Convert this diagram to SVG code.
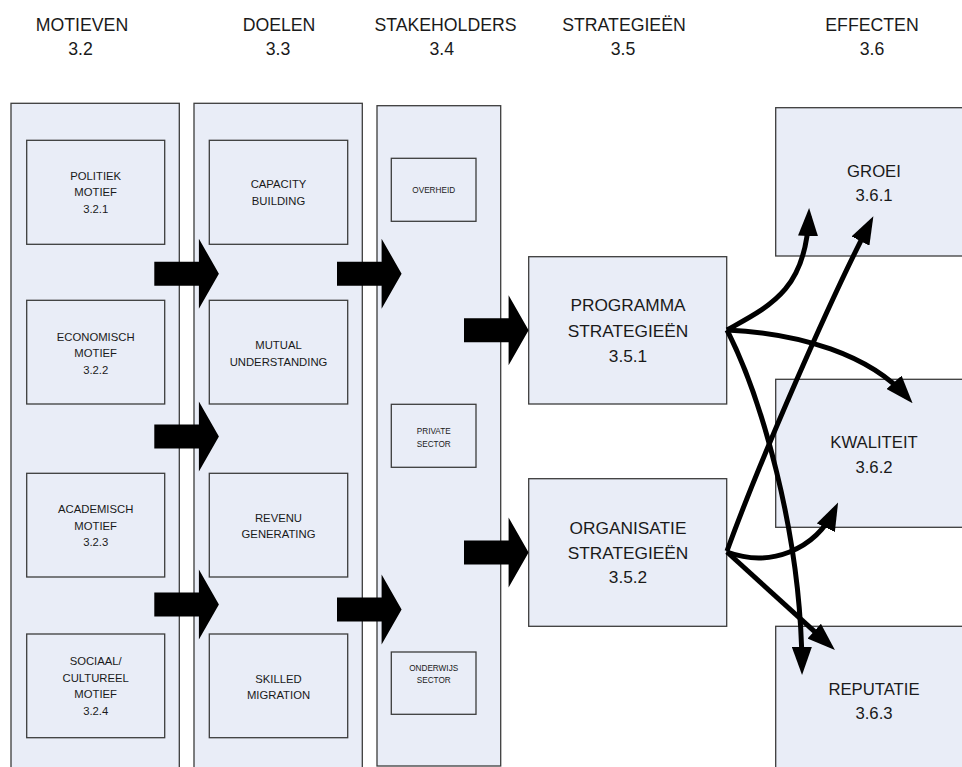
<svg xmlns="http://www.w3.org/2000/svg" xmlns:xlink="http://www.w3.org/1999/xlink" width="962" height="767" viewBox="0 0 962 767">
<style>
  .box { fill: #E9EDF7; stroke: #3c3c3c; stroke-width: 1.3; }
  .col { fill: #E9EDF7; stroke: #3c3c3c; stroke-width: 1.3; }
  text { font-family: "Liberation Sans", Arial, sans-serif; fill: #1a1a1a; text-anchor: middle; }
  .hd { font-size: 17.7px; }
  .lb { font-size: 11.3px; }
  .sm { font-size: 8.2px; }
  .st { font-size: 17.3px; }
  .ef { font-size: 16.7px; }
  .con { fill: none; stroke: #000; stroke-width: 5; marker-end: url(#ah); }
  .blk { fill: #000; }
</style>
<defs>
  <marker id="ah" markerUnits="userSpaceOnUse" viewBox="0 0 28 20" markerWidth="28" markerHeight="20" refX="20" refY="10" orient="auto">
    <path d="M0,0 L28,10 L0,20 Z" fill="#000"/>
  </marker>
  <path id="blk" d="M0,-12 H44.6 V-35 L64.6,0 L44.6,35 V12 H0 Z"/>
</defs>
<rect width="962" height="767" fill="#fff"/>

<g id="headers">
  <text class="hd" x="82" y="31">MOTIEVEN</text>
  <text class="hd" x="80.5" y="55">3.2</text>
  <text class="hd" x="279" y="31">DOELEN</text>
  <text class="hd" x="278" y="55">3.3</text>
  <text class="hd" x="445.5" y="31">STAKEHOLDERS</text>
  <text class="hd" x="441.7" y="55">3.4</text>
  <text class="hd" x="624" y="31">STRATEGIEËN</text>
  <text class="hd" x="623" y="55">3.5</text>
  <text class="hd" x="872" y="31">EFFECTEN</text>
  <text class="hd" x="872" y="55">3.6</text>
</g>

<g id="col-motieven">
  <rect class="col" x="11" y="103.3" width="168.3" height="690"/>
</g>
<g id="col-doelen">
  <rect class="col" x="194" y="103.3" width="168.3" height="690"/>
</g>
<g id="col-stakeholders">
  <rect class="col" x="377" y="105.7" width="123.7" height="660.3"/>
</g>

<g id="politiek">
  <rect class="box" x="26.7" y="140.3" width="138" height="104"/>
  <text class="lb" x="95.7" y="180">POLITIEK</text>
  <text class="lb" x="95.7" y="196.3">MOTIEF</text>
  <text class="lb" x="95.7" y="212.7">3.2.1</text>
</g>
<g id="economisch">
  <rect class="box" x="26.7" y="300.3" width="138" height="103.7"/>
  <text class="lb" x="95.7" y="340.5">ECONOMISCH</text>
  <text class="lb" x="95.7" y="357">MOTIEF</text>
  <text class="lb" x="95.7" y="373.5">3.2.2</text>
</g>
<g id="academisch">
  <rect class="box" x="26.7" y="473.3" width="138" height="103.7"/>
  <text class="lb" x="95.7" y="513.3">ACADEMISCH</text>
  <text class="lb" x="95.7" y="530">MOTIEF</text>
  <text class="lb" x="95.7" y="546.3">3.2.3</text>
</g>
<g id="sociaal">
  <rect class="box" x="26.7" y="634" width="138" height="103.7"/>
  <text class="lb" x="95.7" y="665">SOCIAAL/</text>
  <text class="lb" x="95.7" y="681.7">CULTUREEL</text>
  <text class="lb" x="95.7" y="698.3">MOTIEF</text>
  <text class="lb" x="95.7" y="715">3.2.4</text>
</g>

<g id="capacity">
  <rect class="box" x="209.3" y="140.3" width="138.4" height="104"/>
  <text class="lb" x="278.5" y="188.3">CAPACITY</text>
  <text class="lb" x="278.5" y="205">BUILDING</text>
</g>
<g id="mutual">
  <rect class="box" x="209.3" y="300.3" width="138.4" height="103.7"/>
  <text class="lb" x="278.5" y="349.3">MUTUAL</text>
  <text class="lb" x="278.5" y="366">UNDERSTANDING</text>
</g>
<g id="revenu">
  <rect class="box" x="209.3" y="473.3" width="138.4" height="103.7"/>
  <text class="lb" x="278.5" y="521.7">REVENU</text>
  <text class="lb" x="278.5" y="538.3">GENERATING</text>
</g>
<g id="skilled">
  <rect class="box" x="209.3" y="634" width="138.4" height="103.7"/>
  <text class="lb" x="278.5" y="682.7">SKILLED</text>
  <text class="lb" x="278.5" y="699.3">MIGRATION</text>
</g>

<g id="overheid">
  <rect class="box" x="391.3" y="158.3" width="84.7" height="63"/>
  <text class="sm" x="433.7" y="193.3">OVERHEID</text>
</g>
<g id="private">
  <rect class="box" x="391.3" y="404.3" width="84.7" height="63"/>
  <text class="sm" x="433.7" y="434">PRIVATE</text>
  <text class="sm" x="433.7" y="446.7">SECTOR</text>
</g>
<g id="onderwijs">
  <rect class="box" x="391.3" y="652" width="84.7" height="62.3"/>
  <text class="sm" x="433.7" y="670.7">ONDERWIJS</text>
  <text class="sm" x="433.7" y="683.3">SECTOR</text>
</g>

<g id="programma">
  <rect class="box" x="528.7" y="256.7" width="198" height="147.3"/>
  <text class="st" x="628" y="310.7">PROGRAMMA</text>
  <text class="st" x="628" y="336.7">STRATEGIEËN</text>
  <text class="st" x="628" y="361.7">3.5.1</text>
</g>
<g id="organisatie">
  <rect class="box" x="528.7" y="478.7" width="198" height="147.6"/>
  <text class="st" x="628" y="534">ORGANISATIE</text>
  <text class="st" x="628" y="559.3">STRATEGIEËN</text>
  <text class="st" x="628" y="583.3">3.5.2</text>
</g>

<g id="groei">
  <rect class="box" x="775.7" y="107.7" width="210" height="148.3"/>
  <text class="ef" x="874" y="176.7">GROEI</text>
  <text class="ef" x="874" y="200.7">3.6.1</text>
</g>
<g id="kwaliteit">
  <rect class="box" x="775.7" y="379.3" width="210" height="148"/>
  <text class="ef" x="874" y="448.3">KWALITEIT</text>
  <text class="ef" x="874" y="472.7">3.6.2</text>
</g>
<g id="reputatie">
  <rect class="box" x="775.7" y="626.3" width="210" height="200"/>
  <text class="ef" x="874" y="695">REPUTATIE</text>
  <text class="ef" x="874" y="719.3">3.6.3</text>
</g>

<g id="connectors">
  <use href="#blk" xlink:href="#blk" class="blk" x="154.3" y="273.7"/>
  <use href="#blk" xlink:href="#blk" class="blk" x="154.3" y="436.5"/>
  <use href="#blk" xlink:href="#blk" class="blk" x="154.3" y="604.5"/>
  <use href="#blk" xlink:href="#blk" class="blk" x="337" y="273.7"/>
  <use href="#blk" xlink:href="#blk" class="blk" x="337" y="609.5"/>
  <use href="#blk" xlink:href="#blk" class="blk" x="464" y="330.3"/>
  <use href="#blk" xlink:href="#blk" class="blk" x="464" y="552.5"/>

  <path class="con" d="M727,330 C770,306 806,290 808.8,216"/>
  <path class="con" d="M727,330 C800,333 870,355 907.3,397.3"/>
  <path class="con" d="M727,330 C760,395 801,530 802,667"/>
  <path class="con" d="M727,551 C760,460 830,300 869.7,223.3"/>
  <path class="con" d="M727,552 C770,568 815,550 834.6,509.7"/>
  <path class="con" d="M727,552 L829,644.6"/>
</g>
</svg>
